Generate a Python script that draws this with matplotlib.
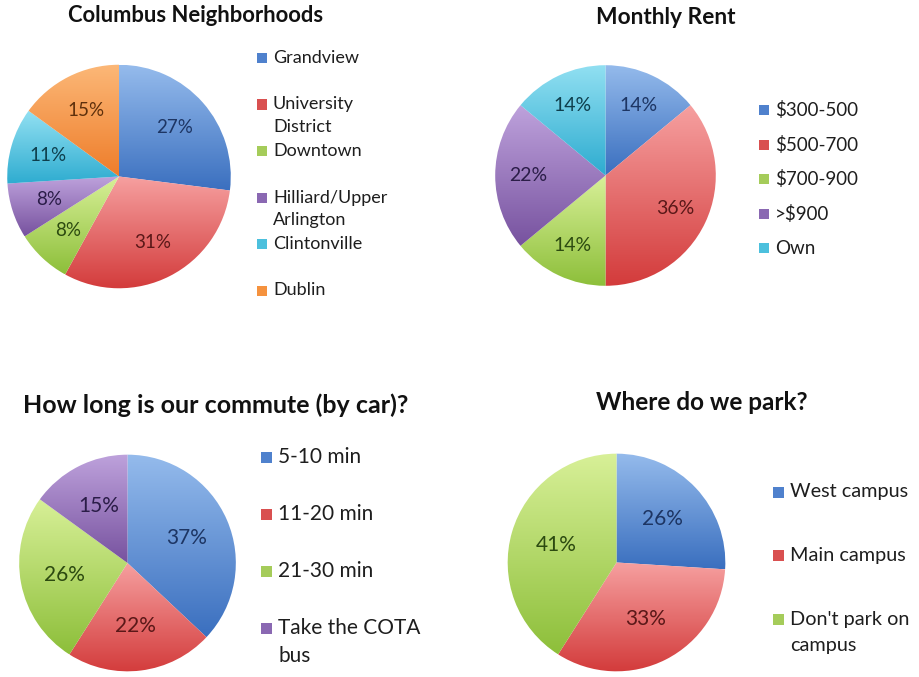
import numpy as np
import matplotlib
matplotlib.use("Agg")
import matplotlib.pyplot as plt
from matplotlib.colors import LinearSegmentedColormap
from matplotlib.patches import Rectangle

plt.rcParams['font.family'] = ['Lato', 'DejaVu Sans']

W, H = 919, 677

# data
hood_labels = ['Grandview', 'University\nDistrict', 'Downtown',
               'Hilliard/Upper\nArlington', 'Clintonville', 'Dublin']
hood_values = [27, 31, 8, 8, 11, 15]

rent_labels = ['$300-500', '$500-700', '$700-900', '>$900', 'Own']
rent_values = [14, 36, 14, 22, 14]

commute_labels = ['5-10 min', '11-20 min', '21-30 min', 'Take the COTA\nbus']
commute_values = [37, 22, 26, 15]

park_labels = ['West campus', 'Main campus', "Don't park on\ncampus"]
park_values = [26, 33, 41]

# (light top, dark bottom, legend swatch, label text)
BLUE = ('#95bbec', '#3a6fbf', '#4f81cd', '#1d3563')
RED = ('#f6a0a0', '#d33b3b', '#d95050', '#5a1818')
GREEN = ('#d8f098', '#8dbf3a', '#a5cc5a', '#2c4a10')
PURPLE = ('#bea2dc', '#77529f', '#8a68b2', '#2b1d48')
AQUA = ('#92e0f2', '#2eacd0', '#4cc0dd', '#0e3e4c')
ORANGE = ('#fcb878', '#ee7d2a', '#f5923e', '#5e300c')


def px_rect(cx, cy, r):
    return [(cx - r) / W, (H - cy - r) / H, 2 * r / W, 2 * r / H]


def draw_pie(cx, cy, r, values, colors, pctdist, pct_size):
    ax = fig.add_axes(px_rect(cx, cy, r))
    wedges, _, autotexts = ax.pie(values, colors=[c[2] for c in colors],
                                  startangle=90, counterclock=False,
                                  autopct='%.0f%%', pctdistance=pctdist,
                                  radius=1.0, wedgeprops=dict(linewidth=0))
    for w, c, t in zip(wedges, colors, autotexts):
        verts = w.get_path().vertices
        y0, y1 = verts[:, 1].min(), verts[:, 1].max()
        cmap = LinearSegmentedColormap.from_list('g', [c[1], c[0]])
        grad = np.linspace(0, 1, 256).reshape(-1, 1)
        im = ax.imshow(grad, cmap=cmap, origin='lower', aspect='auto',
                       extent=[-1.05, 1.05, y0, y1], zorder=w.get_zorder(),
                       interpolation='bilinear')
        im.set_clip_path(w)
        w.set_visible(False)
        t.set_color(c[3])
        t.set_fontsize(pct_size)
        t.set_zorder(5)
    ax.set_xlim(-1.02, 1.02)
    ax.set_ylim(-1.02, 1.02)
    ax.set_aspect('equal')
    ax.axis('off')


def draw_legend(labels, colors, x, y0, step, line_h, size, sq):
    for i, (lab, c) in enumerate(zip(labels, colors)):
        y = y0 + i * step
        fig.add_artist(Rectangle(((x - sq - 6) / W, (H - y - sq / 2) / H),
                                 sq / W, sq / H, transform=fig.transFigure,
                                 facecolor=c[2], edgecolor='none'))
        for k, line in enumerate(lab.split('\n')):
            fig.text(x / W, 1 - (y + k * line_h) / H, line, fontsize=size,
                     color='#1e1e1e', ha='left', va='center')


fig = plt.figure(figsize=(W / 100, H / 100), dpi=100)

hood_colors = [BLUE, RED, GREEN, PURPLE, AQUA, ORANGE]
draw_pie(119, 176.5, 114, hood_values, hood_colors, 0.66, 13.5)
fig.text(196 / W, 1 - 16 / H, 'Columbus Neighborhoods', fontsize=15.8,
         fontweight='bold', ha='center', va='center', color='#111111')
draw_legend(hood_labels, hood_colors, 273, 58, 46.5, 23, 13, 10)

rent_colors = [BLUE, RED, GREEN, PURPLE, AQUA]
draw_pie(605.5, 175.5, 112.5, rent_values, rent_colors, 0.70, 14)
fig.text(666 / W, 1 - 17 / H, 'Monthly Rent', fontsize=16.4,
         fontweight='bold', ha='center', va='center', color='#111111')
draw_legend(rent_labels, rent_colors, 775, 110, 34.6, 25, 13.5, 10)

commute_colors = [BLUE, RED, GREEN, PURPLE]
draw_pie(127.5, 563, 110.5, commute_values, commute_colors, 0.59, 15)
fig.text(216 / W, 1 - 405 / H, 'How long is our commute (by car)?',
         fontsize=18, fontweight='bold', ha='center', va='center',
         color='#111111')
draw_legend(commute_labels, commute_colors, 278, 457, 57, 28, 15, 11)

park_colors = [BLUE, RED, GREEN]
draw_pie(616.5, 562.5, 111, park_values, park_colors, 0.58, 15)
fig.text(702 / W, 1 - 403 / H, 'Where do we park?', fontsize=17.5,
         fontweight='bold', ha='center', va='center', color='#111111')
draw_legend(park_labels, park_colors, 790, 492, 63.5, 26, 14.3, 11)

fig.savefig('out.png', dpi=100, facecolor='white')
